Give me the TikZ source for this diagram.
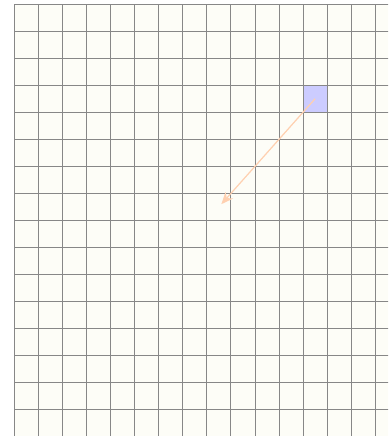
\documentclass[tikz,border=0pt]{standalone}
\usepackage{tikz}
\usetikzlibrary{arrows.meta}

\definecolor{gridline}{RGB}{135,135,135}
\definecolor{paper}{RGB}{253,253,247}
\definecolor{hotcell}{RGB}{204,204,255}
\definecolor{movearrow}{RGB}{255,208,176}

\begin{document}
\begin{tikzpicture}[
x=24.05pt, y=27.05pt,
cellbox/.style={minimum width=24.05pt, minimum height=27.05pt, inner sep=0pt, outer sep=0pt},
gridrule/.style={draw=gridline, line width=1pt},
movepath/.style={draw=movearrow, line width=1.2pt, -{Stealth[length=12pt, width=10pt]}}
]

% Rahmen
\useasboundingbox (-0.603,0.148) rectangle (15.53,-15.97);
\clip (-0.603,0.148) rectangle (15.53,-15.97);

% Papier
\fill[paper] (0,0) rectangle (16,-16);

% Markierte Zelle
\node[cellbox, fill=hotcell] (hot) at (12.5,-3.5) {};

% Raster
\foreach \i in {0,...,16} {
  \draw[gridrule] (\i,0) -- (\i,-16);
  \draw[gridrule] (0,-\i) -- (16,-\i);
}

% Zug
\coordinate (tip) at (8.6,-7.4);
\draw[movepath] (hot.center) -- (tip);

\end{tikzpicture}
\end{document}
